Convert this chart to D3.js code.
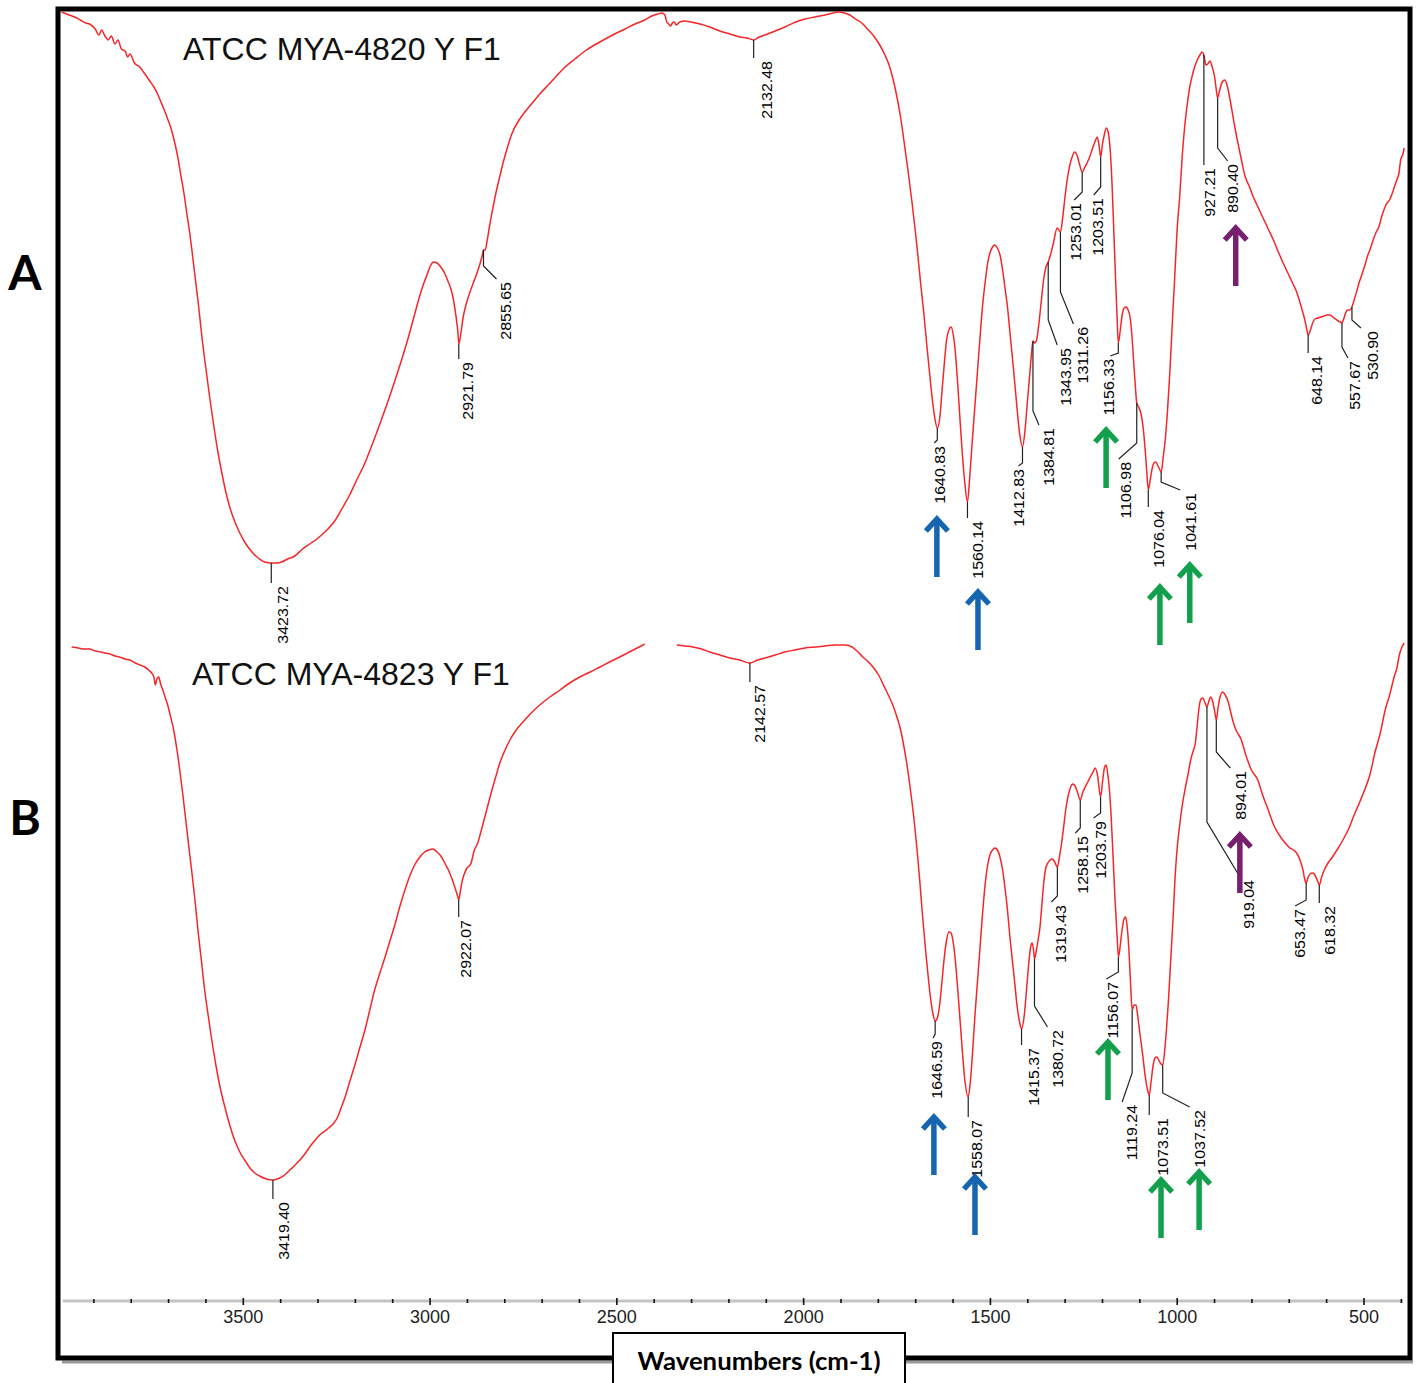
<!DOCTYPE html>
<html>
<head>
<meta charset="utf-8">
<script src="https://cdn.jsdelivr.net/npm/d3@7"></script>
<style>
  body { margin: 0; background: #fff; }
</style>
</head>
<body>
<div id="chart"></div>
<script>
// ---- data: [wavenumber cm-1, transmittance (arb. units)] ----
const spectrumA = [[3985,563],[3965,560],[3950,558],[3935,555],[3920,552],[3910,551],[3895,546],[3885,540],[3878,545],[3869,539],[3860,535],[3852,539],[3842,531],[3834,535],[3825,526],[3815,524],[3808,518],[3802,521],[3790,512],[3776,508],[3762,501],[3749,494],[3738,488],[3728,481],[3718,472],[3709,464],[3700,455],[3690,444],[3682,432],[3674,418],[3666,400],[3658,383],[3650,362],[3642,342],[3634,318],[3626,293],[3618,268],[3610,240],[3600,210],[3588,176],[3578,150],[3567,124],[3556,102],[3546,84],[3535,68],[3521,53],[3508,42],[3495,33],[3482,26],[3468,20],[3455,16],[3441,13],[3423.72,12],[3410,12],[3396,13],[3380,16],[3361,19],[3340,26],[3321,31],[3305,35],[3289,40],[3272,46],[3254,54],[3235,66],[3214,80],[3195,95],[3173,112],[3153,131],[3133,151],[3113,172],[3093,194],[3075,215],[3058,236],[3044,255],[3031,273],[3019,288],[3007,300],[2998,309],[2989,313],[2980,312],[2970,308],[2960,302],[2951,294],[2942,285],[2935,273],[2929,258],[2924,242],[2921.79,231],[2916,242],[2910,258],[2904,268],[2898,276],[2890,285],[2882,293],[2874,301],[2866,310],[2860,318],[2855.65,325],[2851,325],[2846,334],[2839,350],[2831,366],[2823,381],[2813,397],[2804,411],[2792,427],[2780,441],[2762,454],[2745,463],[2725,472],[2705,481],[2685,489],[2665,497],[2640,507],[2611,516],[2580,525],[2544,533],[2510,540],[2477,546],[2450,551],[2424,555],[2405,559],[2389,561],[2378,562],[2370,560],[2365,553],[2360,551],[2355,549],[2350,552],[2345,553],[2340,550],[2330,553],[2317,554],[2300,553],[2276,551],[2250,548],[2223,544],[2196,541],[2169,538],[2150,537],[2132.48,535],[2118,538],[2102,540],[2075,544],[2049,548],[2020,553],[1995,556],[1968,558],[1941,560],[1920,562],[1907,563],[1890,562],[1875,560],[1860,556],[1843,552],[1828,546],[1811,539],[1795,530],[1781,520],[1770,510],[1760,497],[1750,480],[1741,462],[1733,442],[1725,420],[1717,398],[1709,374],[1700,345],[1693,320],[1685,290],[1677,262],[1669,230],[1661,200],[1654,175],[1648,158],[1640.83,147],[1634,158],[1628,185],[1622,212],[1616,235],[1610,245],[1604,248],[1598,240],[1592,220],[1586,190],[1580,155],[1574,122],[1568,95],[1560.14,73],[1554,98],[1548,130],[1541,165],[1534,200],[1527,235],[1520,268],[1513,292],[1506,312],[1500,322],[1493,328],[1487,330],[1480,327],[1473,320],[1466,305],[1460,288],[1453,268],[1447,245],[1440,218],[1433,190],[1427,165],[1420,140],[1412.83,128],[1406,145],[1400,172],[1394,198],[1389,220],[1384.81,234],[1380,232],[1375,235],[1370,248],[1363,272],[1356,296],[1350,308],[1343.95,313],[1338,320],[1330,332],[1320,347],[1311.26,343],[1305,358],[1299,378],[1292,398],[1286,410],[1280,418],[1273,423],[1267,420],[1261,412],[1253.01,403],[1247,407],[1240,412],[1233,418],[1226,426],[1219,433],[1213,438],[1208,430],[1203.51,418],[1199,430],[1194,440],[1188,447],[1183,442],[1178,425],[1173,390],[1168,340],[1163,290],[1160,262],[1156.33,232],[1151,245],[1146,260],[1141,267],[1135,268],[1130,265],[1125,258],[1120,240],[1115,212],[1110,185],[1106.98,172],[1102,168],[1096,162],[1090,148],[1085,128],[1081,108],[1076.04,85],[1071,95],[1066,106],[1061,112],[1056,113],[1050,109],[1046,106],[1041.61,103],[1036,118],[1030,138],[1024,168],[1018,205],[1012,250],[1005,300],[999,345],[992,378],[985,420],[979,447],[972,470],[965,488],[958,500],[952,508],[945,515],[938,520],[932,523],[927.21,520],[922,510],[917,511],[911,514],[905,508],[898,497],[894,485],[890.40,477],[885,485],[878,493],[871,495],[864,488],[857,475],[850,460],[844,447],[835,430],[825,412],[818,400],[805,388],[795,378],[785,370],[770,358],[755,346],[740,334],[729,324],[715,312],[700,300],[690,292],[681,285],[672,275],[665,266],[657,255],[652,246],[648.14,240],[643,244],[637,251],[630,256],[622,257],[614,258],[606,259],[598,260],[590,260],[582,258],[575,256],[568,254],[562,253],[557.67,252],[553,256],[548,262],[543,265],[537,265],[530.90,268],[525,275],[518,284],[512,292],[503,302],[496,310],[490,318],[483,325],[475,334],[467,342],[459,348],[450,360],[440,370],[429,376],[420,385],[412,394],[405,402],[400,416],[395,420],[391,427]];

// null = gap in the trace (CO2 region cut out)
const spectrumB = [[3958,548],[3940,547],[3925,546],[3910,546],[3895,544],[3880,543],[3868,542],[3856,541],[3842,539],[3830,538],[3815,536],[3802,535],[3788,532],[3775,530],[3762,528],[3752,525],[3744,522],[3738,518],[3734,510],[3730,516],[3725,518],[3720,511],[3714,505],[3708,498],[3701,490],[3693,478],[3685,465],[3677,447],[3669,426],[3661,402],[3653,376],[3645,350],[3637,325],[3628,295],[3620,265],[3611,235],[3602,205],[3592,178],[3583,155],[3572,130],[3562,110],[3548,88],[3535,70],[3522,55],[3508,43],[3495,35],[3481,27],[3468,22],[3455,19],[3437,16],[3419.40,15],[3401,17],[3388,20],[3374,25],[3360,30],[3347,35],[3334,41],[3321,48],[3308,54],[3294,60],[3280,64],[3267,68],[3256,72],[3246,78],[3237,87],[3227,97],[3214,113],[3200,130],[3187,147],[3173,165],[3160,185],[3147,205],[3133,222],[3120,237],[3107,253],[3093,270],[3080,288],[3066,305],[3053,319],[3040,330],[3026,338],[3013,343],[3002,345],[2991,346],[2980,343],[2970,339],[2958,331],[2946,322],[2938,314],[2930,305],[2925,299],[2922.07,295],[2917,305],[2912,315],[2906,322],[2900,327],[2894,329],[2890,331],[2880,345],[2871,352],[2862,364],[2852,378],[2843,391],[2833,405],[2823,418],[2812,432],[2798,445],[2785,455],[2768,465],[2750,473],[2728,482],[2705,490],[2678,498],[2651,505],[2625,512],[2598,518],[2570,523],[2544,528],[2518,533],[2491,538],[2460,544],[2429,550],[2424,551],null,[2338,550],[2317,549],[2295,548],[2272,546],[2250,543],[2223,540],[2196,537],[2170,535],[2142.57,532],[2122,535],[2102,537],[2075,540],[2049,543],[2022,545],[1995,547],[1968,548],[1941,549],[1915,550],[1888,550],[1869,548],[1853,543],[1840,538],[1825,533],[1811,527],[1798,520],[1785,510],[1772,500],[1760,490],[1749,478],[1739,465],[1730,448],[1720,425],[1711,400],[1703,375],[1695,345],[1688,315],[1681,282],[1674,252],[1667,225],[1660,200],[1653,182],[1646.59,174],[1640,178],[1634,192],[1628,215],[1622,238],[1616,255],[1610,263],[1604,262],[1598,252],[1592,232],[1586,205],[1580,175],[1574,145],[1568,118],[1558.07,98],[1552,115],[1546,145],[1540,180],[1533,215],[1527,245],[1520,280],[1513,310],[1506,330],[1500,340],[1493,345],[1486,347],[1480,345],[1473,338],[1466,325],[1460,308],[1453,285],[1447,260],[1440,235],[1433,210],[1427,188],[1420,172],[1415.37,166],[1408,180],[1402,205],[1396,232],[1391,248],[1387,252],[1383,244],[1380.72,236],[1376,244],[1371,255],[1366,268],[1361,290],[1356,312],[1351,326],[1345,332],[1339,335],[1334,336],[1328,334],[1323,330],[1319.43,328],[1314,338],[1308,352],[1302,370],[1296,388],[1290,400],[1284,408],[1278,411],[1272,409],[1265,402],[1258.15,395],[1252,402],[1245,408],[1238,413],[1230,419],[1224,423],[1218,427],[1212,420],[1203.79,398],[1198,415],[1193,428],[1189,430],[1185,422],[1180,405],[1175,375],[1170,335],[1165,295],[1160,262],[1156.07,238],[1151,250],[1146,266],[1141,276],[1137,278],[1133,270],[1128,245],[1124,215],[1119.24,185],[1114,190],[1109,190],[1104,178],[1098,160],[1091,140],[1084,118],[1078,105],[1073.51,100],[1068,115],[1063,130],[1058,137],[1053,138],[1047,134],[1042,131],[1037.52,130],[1032,145],[1027,168],[1022,195],[1016,235],[1010,275],[1004,320],[998,350],[992,370],[985,390],[978,405],[970,420],[962,436],[955,445],[950,452],[945,470],[940,488],[935,496],[930,497],[925,493],[919.04,488],[914,494],[909,498],[904,494],[899,485],[894.01,475],[889,488],[884,498],[877,503],[870,500],[862,493],[855,482],[848,472],[840,464],[828,456],[815,440],[800,425],[783,415],[770,400],[755,385],[738,368],[720,357],[700,348],[679,342],[670,335],[662,325],[657,315],[653.47,312],[648,318],[643,321],[636,322],[630,320],[624,315],[618.32,310],[612,318],[605,325],[595,332],[585,337],[571,345],[555,355],[540,366],[525,380],[510,393],[497,405],[483,420],[469,443],[455,462],[442,485],[430,500],[418,518],[410,528],[404,540],[397,548],[391,552]];

// labelled band positions (cm-1)
const peaksA = [3423.72, 2921.79, 2855.65, 2132.48, 1640.83, 1560.14, 1412.83, 1384.81, 1343.95, 1311.26,
                1253.01, 1203.51, 1156.33, 1106.98, 1076.04, 1041.61, 927.21, 890.40, 648.14, 557.67, 530.90];
const peaksB = [3419.40, 2922.07, 2142.57, 1646.59, 1558.07, 1415.37, 1380.72, 1319.43, 1258.15, 1203.79,
                1156.07, 1119.24, 1073.51, 1037.52, 919.04, 894.01, 653.47, 618.32];

// highlighted bands (arrows): wavenumber and group
const arrowBandsA = [[1642, "amide"], [1532, "amide"], [1189, "poly"], [1045, "poly"], [965, "poly"], [842, "beta"]];
const arrowBandsB = [[1650, "amide"], [1540, "amide"], [1184, "poly"], [1042, "poly"], [940, "poly"], [831, "beta"]];

const tickValues = d3.range(3900, 399, -100);
const tickLabels = [3500, 3000, 2500, 2000, 1500, 1000, 500];

// ---- layout ----
const width = 1416, height = 1383;
const frame = { left: 58, top: 9, right: 1410, bottom: 1358 };
const axisY = 1301;
const arrowColor = { amide: "#1565b0", poly: "#12a04c", beta: "#76206f" };
// arrow tip level (in panel value units), arrow length in px
const arrowTipA = [58, -15, 147, -10, 12, 349];
const arrowTipB = [80, 20, 155, 17, 25, 362];
const arrowLen = 60;

// leader layout per label: [vertical drop, kink dx, kink dy, text offset x]
const leader = {
  "3423.72": [20, 0, 0, 11], "2921.79": [15, 0, 0, 9], "2855.65": [16, 13, 13, 9], "2132.48": [18, 0, 0, 13],
  "1640.83": [12, -3, 3, 5], "1560.14": [16, 0, 0, 10], "1412.83": [16, -4, 3, 0], "1384.81": [70, 6, 14, 10],
  "1343.95": [58, 9, 25, 9], "1311.26": [60, 13, 32, 9], "1253.01": [20, -8, 8, 2], "1203.51": [30, -7, 8, 4],
  "1156.33": [10, -8, 3, -2], "1106.98": [40, -18, 16, 7], "1076.04": [17, 0, 0, 10], "1041.61": [10, 19, 8, 11],
  "927.21": [110, 0, 0, 6], "890.40": [50, 10, 13, 5], "648.14": [18, 0, 0, 9], "557.67": [24, 6, 11, 7],
  "530.90": [13, 9, 8, 12],
  "3419.40": [19, 0, 0, 11], "2922.07": [17, 0, 0, 7], "2142.57": [19, 0, 0, 10], "1646.59": [13, -2, 4, 4],
  "1558.07": [20, 0, 0, 9], "1415.37": [16, 0, 0, 12], "1380.72": [47, 13, 21, 10], "1319.43": [29, -6, 6, 9],
  "1258.15": [28, -5, 5, 7], "1203.79": [16, -7, 5, 7], "1156.07": [15, -12, 7, 6], "1119.24": [63, -10, 29, 10],
  "1073.51": [20, 0, 0, 14], "1037.52": [28, 27, 14, 10], "919.04": [115, 33, 55, 9], "894.01": [32, 14, 16, 10],
  "653.47": [17, -11, 6, 5], "618.32": [18, 0, 0, 10]
};

const svg = d3.select("#chart").append("svg")
  .attr("width", width)
  .attr("height", height);

const x = d3.scaleLinear().domain([4000, 375.5]).range([56, 1410]);
const yA = d3.scaleLinear().domain([0, 570]).range([575, 5]);
const yB = d3.scaleLinear().domain([0, 570]).range([1195, 625]);

// value of a spectrum at a given wavenumber (linear between read points)
function valueAt(spec, wn) {
  const pts = spec.filter(d => d);
  for (let i = 0; i < pts.length - 1; i++) {
    const a = pts[i], b = pts[i + 1];
    if (wn <= a[0] && wn >= b[0]) {
      const t = (a[0] - wn) / (a[0] - b[0]);
      return a[1] + t * (b[1] - a[1]);
    }
  }
  return pts[pts.length - 1][1];
}

// frame with slight shadow
svg.append("line")
  .attr("x1", frame.left + 4).attr("x2", frame.right + 3)
  .attr("y1", frame.bottom + 4).attr("y2", frame.bottom + 4)
  .attr("stroke", "#9a9a9a").attr("stroke-width", 3);
svg.append("rect")
  .attr("x", frame.left).attr("y", frame.top)
  .attr("width", frame.right - frame.left)
  .attr("height", frame.bottom - frame.top)
  .attr("fill", "none")
  .attr("stroke", "#000")
  .attr("stroke-width", 5);

// axis
const axis = d3.axisBottom(x)
  .tickValues(tickValues)
  .tickSize(0)
  .tickPadding(9)
  .tickFormat(d => tickLabels.includes(d) ? d : "");

const gx = svg.append("g")
  .attr("transform", `translate(0,${axisY})`)
  .call(axis);
gx.select(".domain").remove();
gx.insert("line", ":first-child")
  .attr("x1", frame.left + 5).attr("x2", frame.right - 7)
  .attr("stroke", "#c4c4c4").attr("stroke-width", 3);
gx.selectAll(".tick line")
  .attr("y1", d => tickLabels.includes(d) ? -3 : -2)
  .attr("y2", d => tickLabels.includes(d) ? 4 : 2)
  .attr("stroke", "#111")
  .attr("stroke-width", 1.6);
gx.selectAll(".tick text")
  .style("font-family", "'Liberation Sans', Arial, sans-serif")
  .style("font-size", "18px")
  .attr("fill", "#222");

// spectra
function drawPanel(spec, y, peaks, arrows, tips) {
  const line = d3.line()
    .defined(d => d)
    .x(d => x(d[0]))
    .y(d => y(d[1]))
    .curve(d3.curveMonotoneX);

  svg.append("path")
    .datum(spec)
    .attr("d", line)
    .attr("fill", "none")
    .attr("stroke", "#f5262a")
    .attr("stroke-width", 1.5);

  const g = svg.append("g");
  peaks.forEach(wn => {
    const label = wn.toFixed(2);
    const [drop, kx, ky, tx] = leader[label];
    const px = x(wn), py = y(valueAt(spec, wn));
    const ex = px + kx, ey = py + drop + ky;
    g.append("path")
      .attr("d", `M${px},${py}V${py + drop}L${ex},${ey}`)
      .attr("fill", "none")
      .attr("stroke", "#222")
      .attr("stroke-width", 1.2);
    g.append("text")
      .attr("transform", `translate(${ex + tx},${ey + 3}) rotate(-90) scale(1.1,1)`)
      .attr("text-anchor", "end")
      .attr("dy", "0.36em")
      .style("font-family", "'Liberation Sans', Arial, sans-serif")
      .style("font-size", "14.5px")
      .attr("fill", "#000")
      .text(label);
  });

  arrows.forEach(([wn, group], i) => {
    const ax = x(wn), ty = y(tips[i]);
    const col = arrowColor[group];
    g.append("line")
      .attr("x1", ax).attr("x2", ax)
      .attr("y1", ty + 3).attr("y2", ty + arrowLen)
      .attr("stroke", col).attr("stroke-width", 5.5);
    g.append("path")
      .attr("d", `M${ax - 11},${ty + 14}L${ax},${ty + 2}L${ax + 11},${ty + 14}`)
      .attr("fill", "none")
      .attr("stroke", col).attr("stroke-width", 5.5)
      .attr("stroke-linejoin", "miter");
  });
}

drawPanel(spectrumA, yA, peaksA, arrowBandsA, arrowTipA);
drawPanel(spectrumB, yB, peaksB, arrowBandsB, arrowTipB);

// sample titles
svg.append("text")
  .attr("x", 183).attr("y", 60)
  .style("font-family", "'Liberation Sans', Arial, sans-serif")
  .style("font-size", "32px")
  .attr("fill", "#111")
  .text("ATCC MYA-4820 Y F1");
svg.append("text")
  .attr("x", 192).attr("y", 685)
  .style("font-family", "'Liberation Sans', Arial, sans-serif")
  .style("font-size", "32px")
  .attr("fill", "#111")
  .text("ATCC MYA-4823 Y F1");

// panel letters
[["A", 290], ["B", 835]].forEach(([t, yy]) => {
  svg.append("text")
    .attr("x", 25).attr("y", yy)
    .attr("text-anchor", "middle")
    .style("font-family", "Lato, 'Open Sans', sans-serif")
    .style("font-weight", "bold")
    .style("font-size", "48px")
    .attr("fill", "#000")
    .text(t);
});

// axis title box
svg.append("rect")
  .attr("x", 613).attr("y", 1333)
  .attr("width", 292).attr("height", 60)
  .attr("fill", "#fff")
  .attr("stroke", "#000")
  .attr("stroke-width", 2);
svg.append("text")
  .attr("x", 759).attr("y", 1370)
  .attr("text-anchor", "middle")
  .attr("textLength", 243)
  .attr("lengthAdjust", "spacingAndGlyphs")
  .style("font-family", "Lato, 'Open Sans', sans-serif")
  .style("font-weight", "bold")
  .style("font-size", "25px")
  .attr("fill", "#000")
  .text("Wavenumbers (cm-1)");
</script>
</body>
</html>
